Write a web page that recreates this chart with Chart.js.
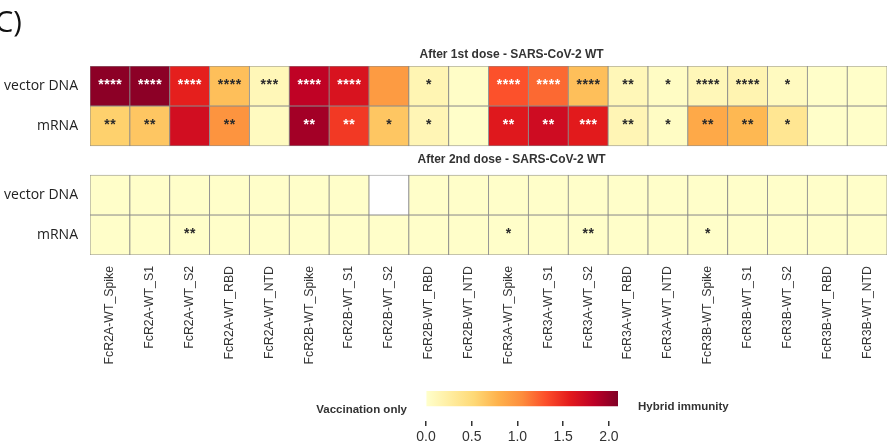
<!DOCTYPE html>
<html><head><meta charset="utf-8">
<script src="https://cdn.jsdelivr.net/npm/chart.js@4/dist/chart.umd.min.js"></script>
<style>
html,body{margin:0;padding:0;background:#fff;}
#wrap{position:relative;width:893px;height:448px;overflow:hidden;}
canvas{position:absolute;left:0;top:0;}
</style></head><body>
<div id="wrap"><canvas id="main" width="893" height="448"></canvas><canvas id="cbar" width="893" height="448"></canvas></div>
<script>
// ---------- DATA ----------
const panelTag = 'C)';
const categories = ['FcR2A-WT_Spike','FcR2A-WT_S1','FcR2A-WT_S2','FcR2A-WT_RBD','FcR2A-WT_NTD',
  'FcR2B-WT_Spike','FcR2B-WT_S1','FcR2B-WT_S2','FcR2B-WT_RBD','FcR2B-WT_NTD',
  'FcR3A-WT_Spike','FcR3A-WT_S1','FcR3A-WT_S2','FcR3A-WT_RBD','FcR3A-WT_NTD',
  'FcR3B-WT_Spike','FcR3B-WT_S1','FcR3B-WT_S2','FcR3B-WT_RBD','FcR3B-WT_NTD'];
const rowNames = ['vector DNA','mRNA'];
const panelTitles = ['After 1st dose - SARS-CoV-2 WT','After 2nd dose - SARS-CoV-2 WT'];

const dose1Vector = [2.05,2.05,1.55,0.70,0.12,1.82,1.65,0.95,0.15,0.03,1.30,1.20,0.70,0.12,0.05,0.12,0.16,0.07,0.02,0.02];
const dose1Mrna   = [0.58,0.65,1.70,1.00,0.07,1.95,1.42,0.65,0.14,0.02,1.60,1.72,1.58,0.14,0.05,0.85,0.75,0.35,0.02,0.02];
const dose2Vector = [0.02,0.02,0.02,0.02,0.02,0.02,0.02,null,0.02,0.02,0.02,0.02,0.02,0.02,0.02,0.02,0.02,0.02,0.02,0.02];
const dose2Mrna   = [0.02,0.02,0.02,0.02,0.02,0.02,0.02,0.02,0.02,0.02,0.02,0.02,0.02,0.02,0.02,0.02,0.02,0.02,0.02,0.02];

const dose1VectorSig = ['****','****','****','****','***','****','****','','*','','****','****','****','**','*','****','****','*','',''];
const dose1MrnaSig   = ['**','**','','**','','**','**','*','*','','**','**','***','**','*','**','**','*','',''];
const dose2VectorSig = ['','','','','','','','','','','','','','','','','','','',''];
const dose2MrnaSig   = ['','','**','','','','','','','','*','','**','','','*','','','',''];

const colorbarTicks = [0, 0.5, 1.0, 1.5, 2.0];
const colorMin = 0, colorMax = 2.1;
const legendLow = 'Vaccination only';
const legendHigh = 'Hybrid immunity';

// ---------- STYLE ----------
const palette = ['#ffffcc','#ffeda0','#fed976','#feb24c','#fd8d3c','#fc4e2a','#e31a1c','#bd0026','#800026'];
function hex2rgb(h){return [parseInt(h.slice(1,3),16),parseInt(h.slice(3,5),16),parseInt(h.slice(5,7),16)];}
function colorFor(v){
  if(v===null||v===undefined) return '#ffffff';
  let t=(v-colorMin)/(colorMax-colorMin); t=Math.max(0,Math.min(1,t));
  const p=t*(palette.length-1); const i=Math.min(Math.floor(p),palette.length-2); const f=p-i;
  const a=hex2rgb(palette[i]), b=hex2rgb(palette[i+1]);
  return 'rgb('+a.map((x,k)=>Math.round(x+(b[k]-x)*f)).join(',')+')';
}

const gap = 0.725;
const rows = [
  {vals: dose1Vector, sig: dose1VectorSig, start: 0},
  {vals: dose1Mrna,   sig: dose1MrnaSig,   start: 1},
  {vals: dose2Vector, sig: dose2VectorSig, start: 2+gap},
  {vals: dose2Mrna,   sig: dose2MrnaSig,   start: 3+gap}
];
const rowCenters = rows.map(r=>r.start+0.5);

const datasets = rows.map(r=>({
  data: r.vals.map(()=>[r.start, r.start+1]),
  backgroundColor: r.vals.map(colorFor),
  borderColor: '#8a8a8a',
  borderWidth: 0.8,
  borderSkipped: false,
  barPercentage: 1,
  categoryPercentage: 1
}));

const overlay = {
  id:'overlay',
  afterDatasetsDraw(chart){
    const ctx=chart.ctx, ca=chart.chartArea, y=chart.scales.y;
    ctx.save();
    // significance stars
    ctx.font='bold 14px "Liberation Sans", Arial, sans-serif';
    ctx.letterSpacing='0.6px';
    ctx.textAlign='center'; ctx.textBaseline='middle';
    rows.forEach((r,i)=>{
      chart.getDatasetMeta(i).data.forEach((el,j)=>{
        const s=r.sig[j]; if(!s) return;
        const v=r.vals[j];
        ctx.fillStyle=(v!==null && v>1.1)?'#ffffff':'#2b2b2b';
        ctx.fillText(s, el.x+0.3, (el.y+el.base)/2-1);
      });
    });
    ctx.letterSpacing='0px';
    // panel titles
    ctx.font='bold 12px "Liberation Sans", Arial, sans-serif';
    ctx.fillStyle='#333';
    const cx=(ca.left+ca.right)/2+23;
    ctx.fillText(panelTitles[0], cx, y.getPixelForValue(rows[0].start)-11.5);
    ctx.fillText(panelTitles[1], cx, y.getPixelForValue(rows[2].start)-15);
    // panel tag
    ctx.font='29px "Open Sans", "Noto Sans", sans-serif';
    ctx.textAlign='left'; ctx.textBaseline='alphabetic'; ctx.fillStyle='#111';
    ctx.fillText(panelTag, -5, 32);
    ctx.restore();
  }
};

new Chart(document.getElementById('main'), {
  type:'bar',
  data:{labels:categories, datasets},
  options:{
    responsive:false, animation:false,
    layout:{padding:{top:66,right:3,left:0,bottom:0}},
    plugins:{legend:{display:false}, tooltip:{enabled:false}},
    scales:{
      x:{type:'category', stacked:true, offset:true,
        grid:{display:false, drawTicks:false}, border:{display:false},
        ticks:{autoSkip:false, minRotation:90, maxRotation:90, padding:11, color:'#333',
          font:{family:'"Liberation Sans", Arial, sans-serif', size:12.3}},
        afterFit(s){ s.height=193; }
      },
      y:{type:'linear', stacked:false, reverse:true, min:0, max:4+gap,
        grid:{display:false, drawTicks:false}, border:{display:false},
        afterBuildTicks(s){ s.ticks=rowCenters.map(v=>({value:v})); },
        ticks:{padding:12, color:'#222', font:{family:'"Open Sans", sans-serif', size:14},
          callback:(v,i)=>rowNames[i%2]},
        afterFit(s){ s.width=90; }
      }
    }
  },
  plugins:[overlay]
});

// ---------- COLOR BAR ----------
const cbarText = {
  id:'cbarText',
  afterDraw(chart){
    const ctx=chart.ctx, ca=chart.chartArea; const cy=(ca.top+ca.bottom)/2;
    ctx.save();
    ctx.font='bold 11.5px "Liberation Sans", Arial, sans-serif';
    ctx.fillStyle='#333'; ctx.textBaseline='middle';
    ctx.textAlign='right'; ctx.fillText(legendLow, ca.left-19, cy+4);
    ctx.textAlign='left'; ctx.fillText(legendHigh, ca.right+20, cy+1);
    ctx.restore();
  }
};
new Chart(document.getElementById('cbar'), {
  type:'bar',
  data:{labels:[''], datasets:[{
    data:[[colorMin, colorMax]],
    backgroundColor(c){
      const ch=c.chart, xs=ch.scales.x; if(!xs||!ch.chartArea) return '#fff';
      const g=ch.ctx.createLinearGradient(xs.getPixelForValue(colorMin),0,xs.getPixelForValue(colorMax),0);
      palette.forEach((p,i)=>g.addColorStop(i/(palette.length-1),p));
      return g;
    },
    borderWidth:0, barPercentage:1, categoryPercentage:1
  }]},
  options:{
    indexAxis:'y', responsive:false, animation:false,
    layout:{padding:{left:426,right:275,top:391,bottom:0}},
    plugins:{legend:{display:false}, tooltip:{enabled:false}},
    scales:{
      x:{type:'linear', min:colorMin, max:colorMax,
        afterBuildTicks(s){ s.ticks=colorbarTicks.map(v=>({value:v})); },
        grid:{display:true, drawOnChartArea:false, drawTicks:true, tickLength:5, color:'#333', lineWidth:1.5},
        border:{display:false},
        ticks:{padding:3, color:'#333', font:{family:'"Liberation Sans", Arial, sans-serif', size:14},
          callback:(v)=>Number(v).toFixed(1)},
        afterFit(s){ s.height=27; }
      },
      y:{display:false, offset:false}
    }
  },
  plugins:[cbarText]
});
</script>
</body></html>
